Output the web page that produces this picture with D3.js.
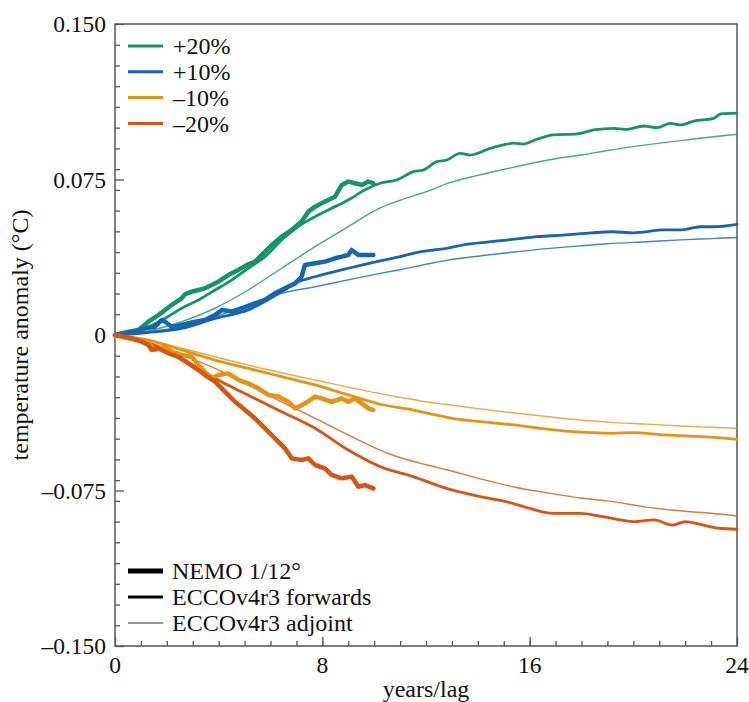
<!DOCTYPE html>
<html>
<head>
<meta charset="utf-8">
<script src="https://cdn.jsdelivr.net/npm/d3@7"></script>
<style>
  html, body { margin: 0; padding: 0; background: #fff; }
  svg { display: block; }
  text { font-family: "Liberation Serif", "DejaVu Serif", serif; fill: #111; }
</style>
</head>
<body>
<svg id="chart" width="749" height="702"></svg>
<script>
// ---------------- DATA ----------------
const seriesNames = ["+20%", "+10%", "\u201310%", "\u201320%"];
const seriesColors = ["#13956a", "#1466b4", "#e8930f", "#d85410"];
const yTickValues = [0.150, 0.075, 0, -0.075, -0.150];
const yTickLabels = ["0.150", "0.075", "0", "\u20130.075", "\u20130.150"];
const xTickValues = [0, 8, 16, 24];
const xTickLabels = ["0", "8", "16", "24"];
const styleNames = ["NEMO 1/12\u00b0", "ECCOv4r3 forwards", "ECCOv4r3 adjoint"];

// NEMO 1/12° runs  [year, anomaly °C]
const nemoP20 = [[0,0],[0.51,0.0016],[0.9,0.0024],[1.29,0.0064],[1.67,0.0096],[1.93,0.0121],[2.19,0.0145],[2.57,0.0177],[2.7,0.0196],[2.96,0.0209],[3.22,0.0217],[3.47,0.0225],[3.73,0.0241],[3.99,0.0257],[4.37,0.0289],[4.76,0.0314],[5.14,0.0341],[5.4,0.0354],[5.66,0.0386],[6.05,0.0434],[6.43,0.0474],[6.82,0.0507],[7.2,0.0547],[7.46,0.0595],[7.72,0.0619],[7.97,0.0635],[8.23,0.0651],[8.49,0.0667],[8.75,0.0724],[9.0,0.074],[9.26,0.0732],[9.52,0.0724],[9.77,0.074],[9.97,0.0732]];
const nemoP10 = [[0,0],[0.77,0.0016],[1.16,0.0032],[1.54,0.004],[1.8,0.0072],[1.93,0.0064],[2.19,0.004],[2.57,0.0048],[3.09,0.0064],[3.47,0.0072],[3.86,0.0096],[4.12,0.0121],[4.5,0.0113],[4.89,0.0129],[5.4,0.0153],[5.79,0.0169],[6.17,0.0201],[6.56,0.0225],[6.95,0.0249],[7.2,0.0281],[7.33,0.0338],[7.72,0.0346],[8.1,0.0354],[8.49,0.037],[8.75,0.0378],[9.0,0.0386],[9.13,0.041],[9.39,0.0386],[9.77,0.0386],[9.97,0.0386]];
const nemoM10 = [[0,0],[0.51,-0.0016],[0.9,-0.0024],[1.29,-0.004],[1.54,-0.0072],[1.93,-0.0056],[2.19,-0.008],[2.57,-0.0096],[2.96,-0.0105],[3.22,-0.0145],[3.47,-0.0177],[3.73,-0.0209],[3.99,-0.0193],[4.37,-0.0185],[4.76,-0.0217],[5.14,-0.0233],[5.53,-0.0257],[5.92,-0.0289],[6.3,-0.0297],[6.69,-0.0322],[6.95,-0.0354],[7.33,-0.033],[7.72,-0.0297],[7.97,-0.0306],[8.36,-0.0322],[8.75,-0.0306],[9.0,-0.0322],[9.26,-0.0306],[9.52,-0.033],[9.77,-0.0354],[9.97,-0.0362]];
const nemoM20 = [[0,0],[0.64,-0.0016],[1.03,-0.0032],[1.29,-0.0048],[1.41,-0.0072],[1.67,-0.0064],[2.06,-0.0088],[2.44,-0.0105],[2.83,-0.0137],[3.22,-0.0169],[3.47,-0.0193],[3.86,-0.0225],[4.24,-0.0273],[4.63,-0.0322],[5.02,-0.0362],[5.4,-0.0402],[5.79,-0.045],[6.17,-0.0498],[6.56,-0.0547],[6.82,-0.0595],[7.2,-0.0603],[7.46,-0.0595],[7.72,-0.0627],[8.1,-0.0643],[8.36,-0.0675],[8.75,-0.0691],[9.13,-0.0683],[9.39,-0.0732],[9.65,-0.0724],[9.97,-0.074]];

// ECCOv4r3 forward runs
const fwdP20 = [[0,0],[1.29,0.004],[1.93,0.008],[2.57,0.0129],[3.22,0.0169],[3.86,0.0217],[4.5,0.0265],[5.14,0.0322],[5.79,0.0378],[6.43,0.0458],[7.07,0.0523],[7.72,0.0571],[8.36,0.0611],[9.0,0.0651],[9.65,0.070],[10.23,0.0732],[10.88,0.0748],[11.52,0.0788],[11.9,0.0796],[12.42,0.0836],[12.8,0.0844],[13.32,0.0876],[13.7,0.0868],[14.48,0.090],[14.99,0.0917],[15.38,0.0925],[15.76,0.0921],[16.28,0.0944],[16.92,0.0965],[17.83,0.097],[18.47,0.0989],[19.24,0.0997],[19.75,0.0992],[20.4,0.1008],[20.92,0.100],[21.43,0.1021],[21.8,0.1013],[22.33,0.1032],[23.1,0.1045],[23.36,0.1066],[24,0.107]];
const fwdP10 = [[0,0],[1.29,0.0012],[2.57,0.0032],[3.86,0.008],[5.14,0.0121],[6.43,0.0209],[7.07,0.0257],[7.72,0.0281],[9.0,0.0322],[10.23,0.0358],[11,0.0378],[11.5,0.0394],[12.3,0.041],[12.8,0.0418],[13.4,0.0434],[14.5,0.045],[15.4,0.0462],[16.3,0.0474],[17.3,0.0482],[18.4,0.0493],[19.2,0.0498],[20,0.0493],[21.2,0.0507],[21.8,0.0507],[22.6,0.0522],[23.1,0.0522],[24,0.0534]];
const fwdM10 = [[0,0],[1.29,-0.0025],[2.57,-0.0072],[3.86,-0.0121],[5.14,-0.0161],[6.43,-0.0201],[7.72,-0.0241],[9.0,-0.0289],[10.23,-0.0334],[11.5,-0.0362],[12.4,-0.0386],[13.3,-0.0407],[14.1,-0.0418],[15.4,-0.0434],[16.4,-0.045],[17.3,-0.0462],[18.4,-0.0471],[19.2,-0.0474],[20,-0.0471],[21.2,-0.0482],[22,-0.0487],[23.1,-0.0494],[24,-0.0503]];
const fwdM20 = [[0,0],[1.29,-0.004],[2.57,-0.0113],[3.22,-0.0161],[3.86,-0.0209],[5.14,-0.029],[6.43,-0.037],[7.72,-0.045],[9.0,-0.0555],[10.23,-0.0635],[11.5,-0.0683],[12.8,-0.074],[14.1,-0.078],[15.1,-0.0804],[16,-0.0836],[16.9,-0.086],[17.95,-0.086],[19,-0.088],[20,-0.090],[20.8,-0.0892],[21.5,-0.0917],[22,-0.090],[22.7,-0.0917],[23.3,-0.0932],[24,-0.0937]];

// ECCOv4r3 adjoint reconstructions
const adjP20 = [[0,0],[1.29,0.002],[2.57,0.0064],[3.86,0.0129],[5.14,0.0217],[6.43,0.0322],[7.72,0.0426],[9.0,0.0523],[10.23,0.0613],[11,0.065],[12.2,0.070],[12.8,0.073],[14,0.077],[15.4,0.081],[17,0.085],[18,0.0868],[19,0.089],[20.5,0.0917],[22,0.094],[23,0.0955],[24,0.0968]];
const adjP10 = [[0,0],[1.29,0.0015],[2.57,0.004],[5.14,0.0145],[6.43,0.0201],[7.72,0.0233],[10.23,0.0297],[11,0.0315],[12.16,0.0345],[12.8,0.036],[14,0.038],[15.4,0.040],[17,0.042],[17.95,0.043],[19,0.044],[20.5,0.045],[22,0.046],[23,0.0465],[24,0.047]];
const adjM10 = [[0,0],[1.29,-0.0025],[2.57,-0.0064],[5.14,-0.0145],[7.72,-0.0217],[10.23,-0.0283],[11,-0.030],[12.05,-0.0323],[12.8,-0.0335],[14,-0.0355],[15.4,-0.0376],[17,-0.0398],[17.95,-0.041],[19,-0.042],[20.5,-0.043],[22,-0.044],[23,-0.0445],[24,-0.045]];
const adjM20 = [[0,0],[1.29,-0.0035],[2.57,-0.0096],[3.86,-0.0161],[5.14,-0.0241],[6.43,-0.0322],[7.72,-0.0402],[9.0,-0.0482],[10.23,-0.0555],[10.73,-0.058],[12.05,-0.0627],[12.8,-0.065],[14,-0.069],[15.4,-0.0733],[17,-0.0768],[17.95,-0.0786],[19,-0.080],[20.5,-0.083],[22,-0.085],[23,-0.086],[24,-0.0873]];

// ---------------- CHART ----------------
const svg = d3.select("#chart");
const W = 749, H = 702;
const m = { left: 115, right: 12, top: 24, bottom: 56 };
const x = d3.scaleLinear().domain([0, 24]).range([m.left, W - m.right]);
const y = d3.scaleLinear().domain([-0.15, 0.15]).range([H - m.bottom, m.top]);

const axisColor = "#555";

// Frame
svg.append("rect")
  .attr("x", x(0)).attr("y", y(0.15))
  .attr("width", x(24) - x(0)).attr("height", y(-0.15) - y(0.15))
  .attr("fill", "none").attr("stroke", axisColor).attr("stroke-width", 1.5);

// Y axis: minor ticks every 0.01, major at multiples of 0.075 (inward)
const yMinor = d3.range(-14, 15).map(d => d / 100);
const yAxisMinor = d3.axisRight(y).tickValues(yMinor).tickSize(5).tickFormat("");
const gyMinor = svg.append("g").attr("transform", `translate(${x(0)},0)`).call(yAxisMinor);
const yAxisMajor = d3.axisRight(y).tickValues(yTickValues).tickSize(9).tickFormat("");
const gyMajor = svg.append("g").attr("transform", `translate(${x(0)},0)`).call(yAxisMajor);
[gyMinor, gyMajor].forEach(g => {
  g.select(".domain").remove();
  g.selectAll("line").attr("stroke", axisColor).attr("stroke-width", 1.3);
});
svg.append("g").selectAll("text").data(yTickValues).join("text")
  .attr("x", x(0) - 9).attr("y", d => y(d)).attr("dy", "0.35em")
  .attr("text-anchor", "end").style("font-size", "23.5px")
  .text((d, i) => yTickLabels[i]);

// X axis: minor ticks every 1, major at 0,8,16,24 (inward)
const xAxisMinor = d3.axisTop(x).tickValues(d3.range(1, 24)).tickSize(5).tickFormat("");
const gxMinor = svg.append("g").attr("transform", `translate(0,${y(-0.15)})`).call(xAxisMinor);
const xAxisMajor = d3.axisTop(x).tickValues(xTickValues).tickSize(9).tickFormat("");
const gxMajor = svg.append("g").attr("transform", `translate(0,${y(-0.15)})`).call(xAxisMajor);
[gxMinor, gxMajor].forEach(g => {
  g.select(".domain").remove();
  g.selectAll("line").attr("stroke", axisColor).attr("stroke-width", 1.3);
});
svg.append("g").selectAll("text").data(xTickValues).join("text")
  .attr("x", d => x(d)).attr("y", y(-0.15) + 27)
  .attr("text-anchor", "middle").style("font-size", "23.5px")
  .text((d, i) => xTickLabels[i]);

// Axis titles
svg.append("text").attr("x", (x(0) + x(24)) / 2).attr("y", 697)
  .attr("text-anchor", "middle").style("font-size", "24px").text("years/lag");
svg.append("text")
  .attr("transform", `translate(28,${y(0)}) rotate(-90)`)
  .attr("text-anchor", "middle").style("font-size", "24px")
  .text("temperature anomaly (\u00b0C)");

// Lines
const lineSmooth = d3.line().x(d => x(d[0])).y(d => y(d[1])).curve(d3.curveMonotoneX);
const lineRough = d3.line().x(d => x(d[0])).y(d => y(d[1])).curve(d3.curveLinear);

const adjSets = [adjP20, adjP10, adjM10, adjM20];
const fwdSets = [fwdP20, fwdP10, fwdM10, fwdM20];
const nemoSets = [nemoP20, nemoP10, nemoM10, nemoM20];

const gLines = svg.append("g");
adjSets.forEach((s, i) => {
  gLines.append("path").attr("d", lineSmooth(s)).attr("fill", "none")
    .attr("stroke", seriesColors[i]).attr("stroke-width", 1.4).attr("stroke-opacity", 0.8);
});
fwdSets.forEach((s, i) => {
  gLines.append("path").attr("d", lineSmooth(s)).attr("fill", "none")
    .attr("stroke", seriesColors[i]).attr("stroke-width", 2.8)
    .attr("stroke-linejoin", "round").attr("stroke-linecap", "round");
});
nemoSets.forEach((s, i) => {
  gLines.append("path").attr("d", lineRough(s)).attr("fill", "none")
    .attr("stroke", seriesColors[i]).attr("stroke-width", 4.5)
    .attr("stroke-linejoin", "round").attr("stroke-linecap", "round");
});

// Legend: colours
const legTop = svg.append("g");
seriesNames.forEach((n, i) => {
  const yy = 46 + i * 25.8;
  legTop.append("line").attr("x1", 128).attr("x2", 163).attr("y1", yy).attr("y2", yy)
    .attr("stroke", seriesColors[i]).attr("stroke-width", 3);
  legTop.append("text").attr("x", 173).attr("y", yy).attr("dy", "0.35em")
    .style("font-size", "24px").text(n);
});

// Legend: line styles
const styleWidths = [5, 3, 1.2];
const legBot = svg.append("g");
styleNames.forEach((n, i) => {
  const yy = 571 + i * 26;
  legBot.append("line").attr("x1", 128).attr("x2", 163).attr("y1", yy).attr("y2", yy)
    .attr("stroke", i === 2 ? "#333" : "#000").attr("stroke-width", styleWidths[i]);
  legBot.append("text").attr("x", 172).attr("y", yy).attr("dy", "0.35em")
    .style("font-size", "24px").text(n);
});
</script>
</body>
</html>
